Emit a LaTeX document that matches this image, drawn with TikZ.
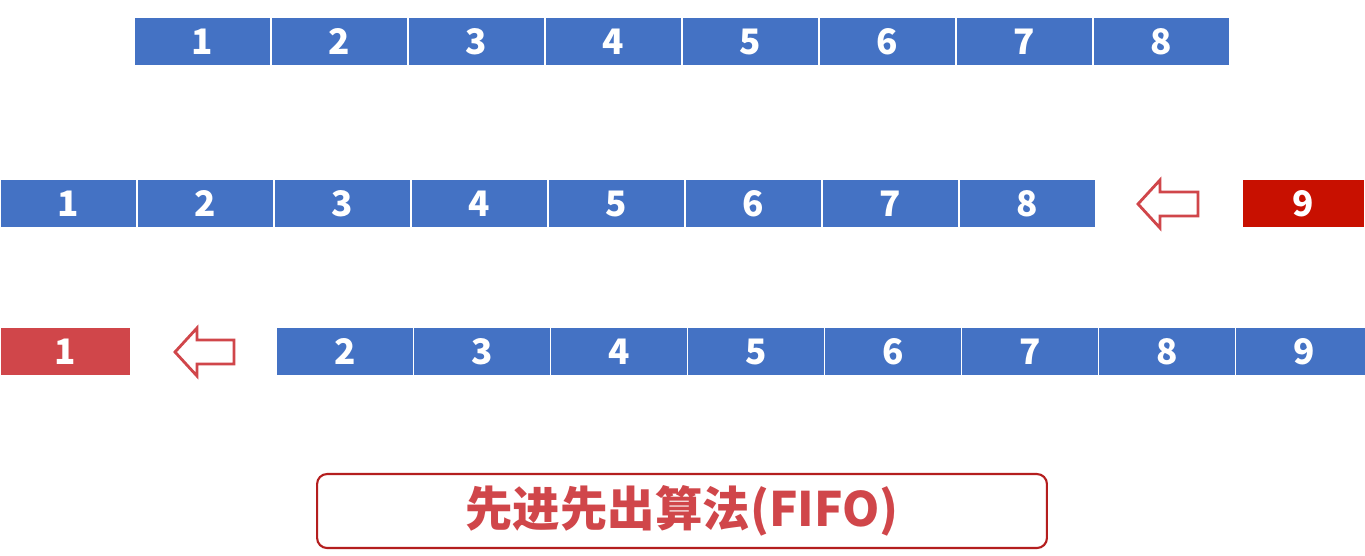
\documentclass[tikz,border=0pt]{standalone}
\usepackage{fontspec}
\newfontfamily\cjk{Noto Sans CJK SC}
\usepackage{tikz}
\usetikzlibrary{positioning}

\definecolor{qblue}{RGB}{68,114,196}
\definecolor{inred}{RGB}{200,16,0}
\definecolor{outred}{RGB}{208,70,74}
\definecolor{boxred}{RGB}{180,30,30}

\tikzset{
  cell/.style={draw=white, line width=0.6pt, fill=qblue, text=white, inner sep=0pt,
    minimum width=2.74cm, minimum height=0.98cm, font=\cjk\bfseries\fontsize{20}{20}\selectfont},
  hollowarrow/.style={draw=outred, line width=1.6pt, fill=white, line join=miter}
}

\begin{document}
\begin{tikzpicture}[x=0.02cm,y=-0.02cm]
\clip (0,0) rectangle (1365,555);
\fill[white] (0,0) rectangle (1365,555);

% Queue before
\foreach \i in {1,...,8} {
    \node[cell] (a\i) at (134+137*\i-68.5,41.5) {\i};
}

% New element enters from the right
\foreach \i in {1,...,8} {
    \node[cell] (b\i) at (137*\i-68.5,203.5) {\i};
}
\node[cell, fill=inred, minimum width=2.46cm] (b9) at (1303.5,203.5) {9};
\draw[hollowarrow] (1138,204) -- (1160,180) -- (1160,192) -- (1198,192) -- (1198,216) -- (1160,216) -- (1160,228) -- cycle;

% First element leaves on the left
\node[cell, fill=outred, minimum width=2.62cm] (c1) at (65.5,351.5) {1};
\foreach \i in {2,...,9} {
    \node[cell] (c\i) at (276.5+137*\i-205.5,351.5) {\i};
}
\draw[hollowarrow] (175,352) -- (197,328) -- (197,340) -- (234,340) -- (234,364) -- (197,364) -- (197,376) -- cycle;

% Title
\node[draw=boxred, line width=1.2pt, rounded corners=0.2cm, minimum width=14.6cm, minimum height=1.48cm,
      text=outred, font=\cjk\bfseries\fontsize{27}{27}\selectfont] (title) at (682,511) {先进先出算法(FIFO)};
\end{tikzpicture}
\end{document}
